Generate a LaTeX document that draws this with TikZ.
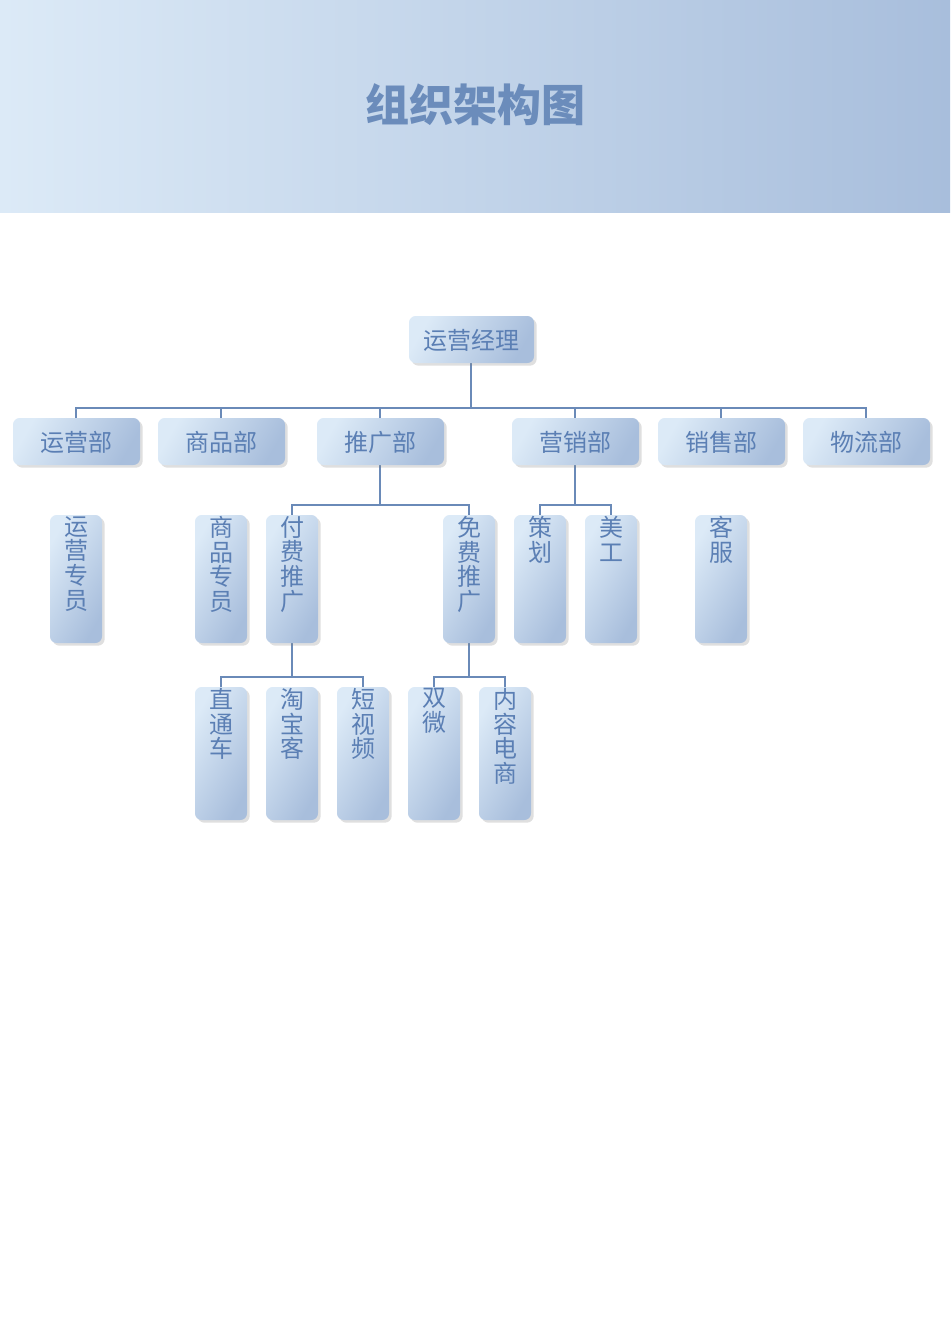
\documentclass[tikz,border=0pt]{standalone}
\usepackage{fontspec}
\setmainfont{Noto Sans CJK SC}
\usetikzlibrary{shadows}
\definecolor{txt}{HTML}{5B7FB4}
\definecolor{ln}{HTML}{6A8AB8}
\definecolor{bl}{HTML}{DCEAF7}
\definecolor{br}{HTML}{A8BEDC}
\begin{document}
\begin{tikzpicture}[x=0.75pt,y=-0.75pt,
  box/.style={rounded corners=5pt,left color=bl,right color=br,shading angle=60,
    drop shadow={shadow xshift=2pt,shadow yshift=-2pt,opacity=0.25}},
  lab/.style={text=txt,font=\fontsize{18pt}{20pt}\selectfont,inner sep=0pt},
  vlab/.style={text=txt,font=\fontsize{18pt}{18.5pt}\selectfont,inner sep=0pt,align=center,anchor=north},
  conn/.style={draw=ln,line width=1.3pt}]
\useasboundingbox (0,0) rectangle (950,1344);
\shade[left color=bl,right color=br] (0,0) rectangle (950,213);
\node[text=txt!90!white,font=\fontsize{33pt}{36pt}\bfseries\selectfont] (title) at (475,105) {组织架构图};
% lines
\draw[conn] (471,363) -- (471,408);
\draw[conn] (76,418) -- (76,408) -- (866,408) -- (866,418);
\foreach \x in {221,380,575,721} \draw[conn] (\x,408) -- (\x,418);
\draw[conn] (380,465) -- (380,505);
\draw[conn] (292,515) -- (292,505) -- (469,505) -- (469,515);
\draw[conn] (575,465) -- (575,505);
\draw[conn] (540,515) -- (540,505) -- (611,505) -- (611,515);
\draw[conn] (292,643) -- (292,677);
\draw[conn] (221,687) -- (221,677) -- (363,677) -- (363,687);
\draw[conn] (469,643) -- (469,677);
\draw[conn] (434,687) -- (434,677) -- (505,677) -- (505,687);
% top
\path[box] (409,316) rectangle (534,363);
\node[lab] (mgr) at (471,340) {运营经理};
% row2
\foreach \x/\t/\n in {76/运营部/d1,221/商品部/d2,380/推广部/d3,575/营销部/d4,721/销售部/d5,866/物流部/d6}{
  \path[box] (\x-63,418) rectangle (\x+64,465);
  \node[lab] (\n) at (\x,442) {\t};
}
% row3
\foreach \x/\t/\n in {76/运\\营\\专\\员/e1,221/商\\品\\专\\员/e2,292/付\\费\\推\\广/e3,469/免\\费\\推\\广/e4,540/策\\划/e5,611/美\\工/e6,721/客\\服/e7}{
  \path[box] (\x-26,515) rectangle (\x+26,643);
  \node[vlab] (\n) at (\x,516) {\t};
}
% row4
\foreach \x/\t/\n in {221/直\\通\\车/f1,292/淘\\宝\\客/f2,363/短\\视\\频/f3,434/双\\微/f4,505/内\\容\\电\\商/f5}{
  \path[box] (\x-26,687) rectangle (\x+26,820);
  \node[vlab] (\n) at (\x,688) {\t};
}
\end{tikzpicture}
\end{document}
